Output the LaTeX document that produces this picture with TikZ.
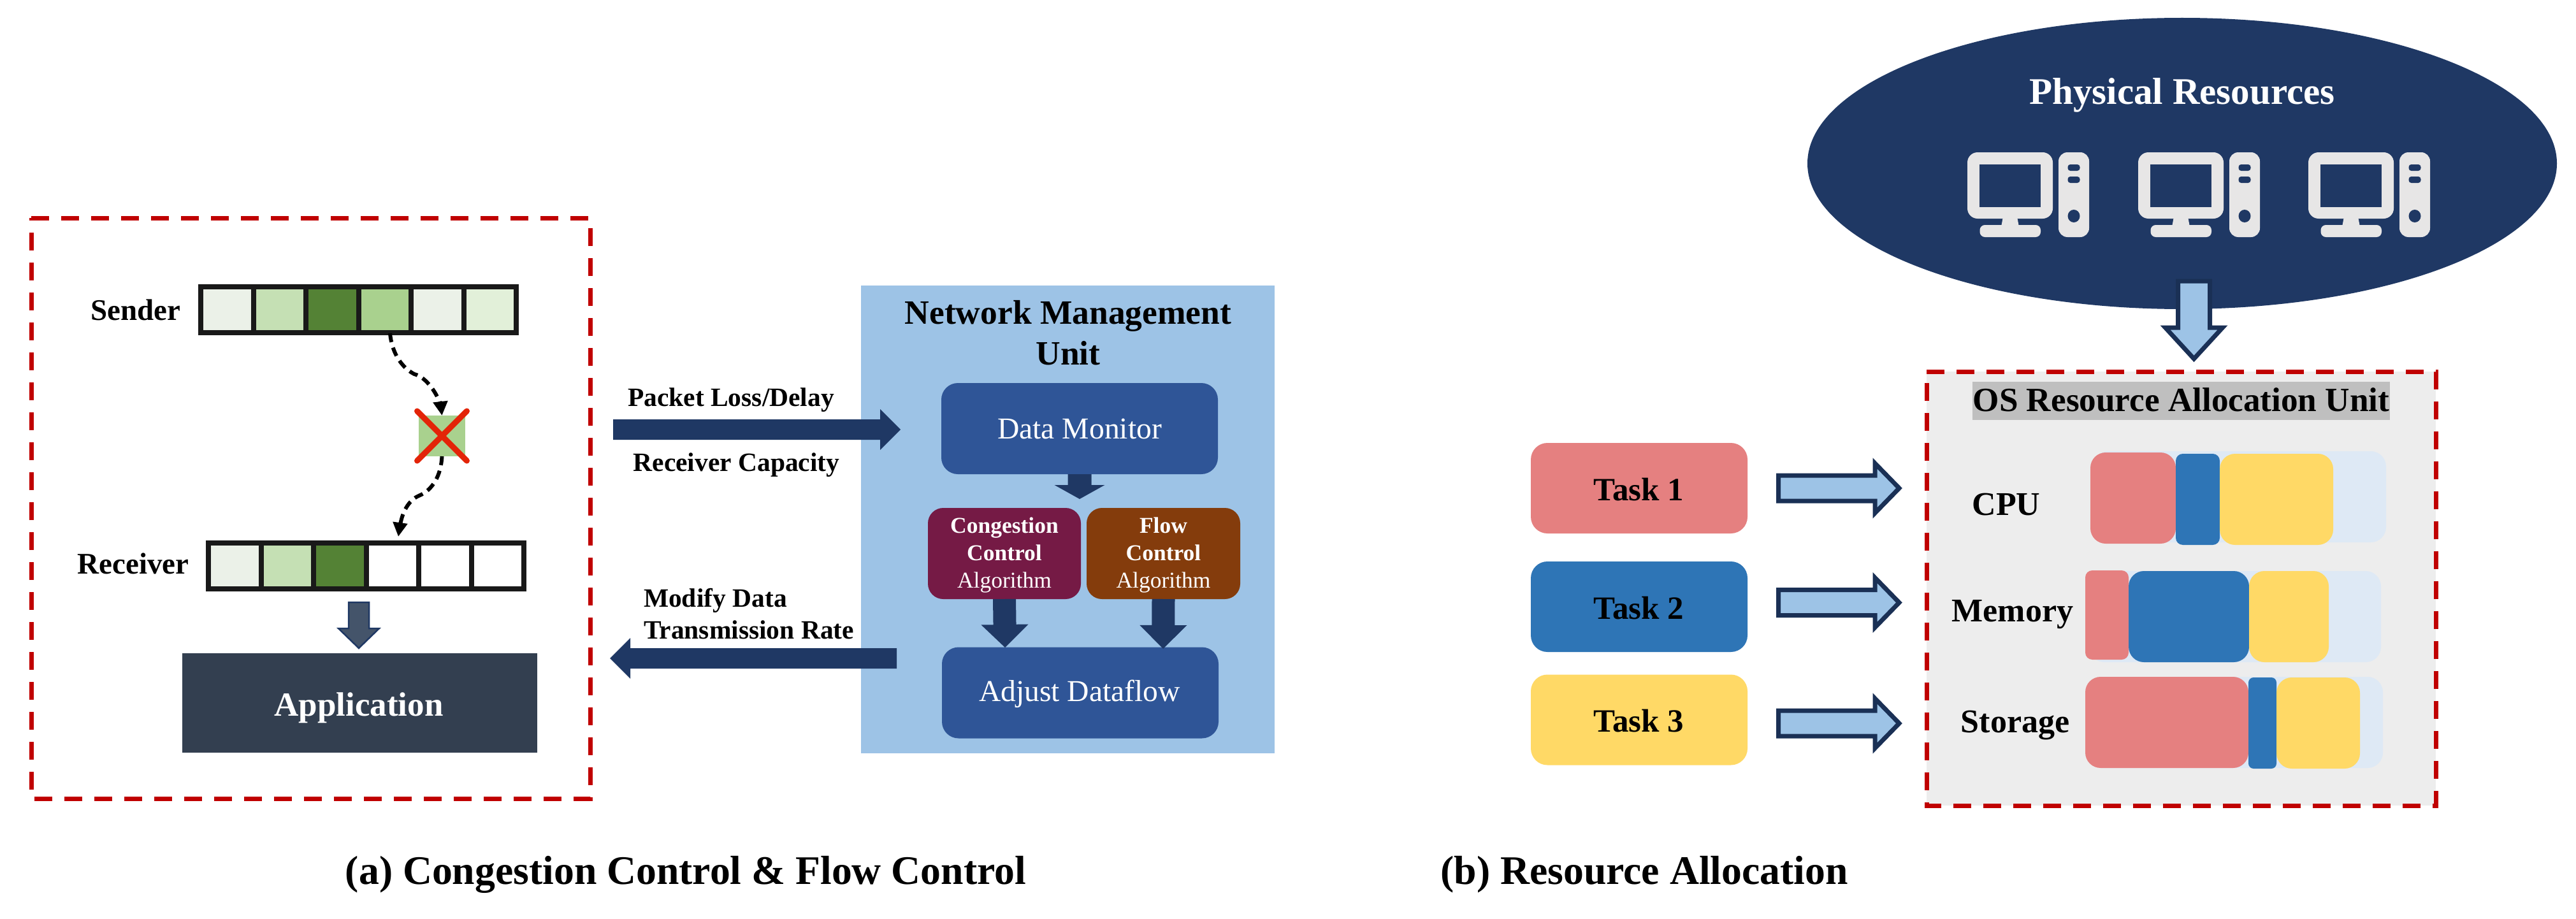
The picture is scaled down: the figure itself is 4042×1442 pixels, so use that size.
\documentclass[tikz,border=0pt]{standalone}
\usepackage{fontspec}
\setmainfont{Liberation Serif}
\usetikzlibrary{calc,arrows.meta,shapes.geometric}
\definecolor{navy}{HTML}{1F3864}
\definecolor{midblue}{HTML}{2F5597}
\definecolor{skyb}{HTML}{9DC3E6}
\definecolor{slate}{HTML}{333F50}
\definecolor{slateb}{HTML}{44546A}
\definecolor{redbox}{HTML}{C00000}
\definecolor{cellA}{HTML}{EBF1E8}
\definecolor{cellB}{HTML}{C5E0B4}
\definecolor{cellC}{HTML}{548235}
\definecolor{cellD}{HTML}{A9D18E}
\definecolor{cellE}{HTML}{E2F0D9}
\definecolor{plum}{HTML}{751A45}
\definecolor{rust}{HTML}{843C0C}
\definecolor{pinkt}{HTML}{E58080}
\definecolor{bluet}{HTML}{2E75B6}
\definecolor{yellt}{HTML}{FFD966}
\definecolor{bgbar}{HTML}{DEE9F5}
\definecolor{greyunit}{HTML}{EDEDED}
\definecolor{greyband}{HTML}{BFBFBF}
\definecolor{iconc}{HTML}{E7E6E6}
\definecolor{crossred}{HTML}{E32408}
\newcommand\fs[1]{\fontsize{#1}{#1}\selectfont}
% style, from, to, shaft half width, head half width, head length
\newcommand\blockarrow[6]{%
  \coordinate (ba) at ($(#3)!#6pt!(#2)$);
  \draw[#1] ($(#2)!#4pt!90:(#3)$) -- ($(ba)!#4pt!90:(#3)$) -- ($(ba)!#5pt!90:(#3)$) -- (#3)
    -- ($(ba)!#5pt!-90:(#3)$) -- ($(ba)!#4pt!-90:(#3)$) -- ($(#2)!#4pt!-90:(#3)$) -- cycle;
}
\tikzset{
  every node/.style={inner sep=0pt,outer sep=0pt},
  redframe/.style={draw=redbox,line width=7pt,dash pattern=on 28pt off 19pt},
  cellbox/.style={draw=black!90,line width=8pt,minimum width=82.5pt,minimum height=72pt},
  bluebox/.style={fill=midblue,rounded corners=26pt,minimum width=434pt,minimum height=143pt},
  bluetext/.style={text=white,font=\fs{47.6}},
  algobox/.style={rounded corners=24pt,minimum width=240pt,minimum height=143pt},
  algotext/.style={text=white,align=center,font=\fontsize{35.5}{43}\selectfont},
  taskbox/.style={rounded corners=26pt,minimum width=340pt,minimum height=142pt},
  tasktext/.style={font=\bfseries\fs{51}},
  barbox/.style={rounded corners=24pt,minimum height=143pt},
  barnarrow/.style={rounded corners=11pt,minimum height=143pt},
  darkarrow/.style={fill=navy,draw=none},
  hollowarrow/.style={fill=skyb,draw=navy!85!black,line width=7pt,miter limit=10},
  dropline/.style={draw=black,line width=6pt,dash pattern=on 14pt off 9pt},
  droptip/.style={-{Triangle[width=22pt,length=22pt]},solid},
}
\begin{document}
\begin{tikzpicture}[x=1pt,y=-1pt]
\fill[white] (0,0) rectangle (4042,1442);
\useasboundingbox (0,0) rectangle (4042,1442);

%% ---------- (a) left dashed frame
\node[minimum width=877pt,minimum height=911pt] (frameA) at (487.5,797.5) {};
\draw[redframe] (frameA.north west) -- (frameA.north east) -- (frameA.south east) -- (frameA.south west) -- cycle;
\node[font=\bfseries\fs{47}] (senderL) at (213,486) {Sender};
\foreach \i/\c in {1/cellA,2/cellB,3/cellC,4/cellD,5/cellA,6/cellE}
  \node[cellbox,fill=\c] (s\i) at ({315+82.5*(\i-.5)},486) {};
\node[font=\bfseries\fs{47}] (receiverL) at (209,884) {Receiver};
\foreach \i/\c in {1/cellA,2/cellB,3/cellC,4/white,5/white,6/white}
  \node[cellbox,fill=\c] (r\i) at ({327+82.5*(\i-.5)},887.5) {};

\node[fill=cellD,minimum width=73pt,minimum height=64pt] (lost) at (693.5,684) {};
\draw[crossred,line width=9pt,line cap=round] ($(lost.center)+(-39,-39)$) -- ($(lost.center)+(39,39)$);
\draw[crossred,line width=9pt,line cap=round] ($(lost.center)+(-39,39)$) -- ($(lost.center)+(39,-39)$);
\coordinate (s4out) at (612,523);
\coordinate (r3in) at (625,842);
\draw[dropline] (s4out) .. controls (615,555) and (631,577) .. (650,587) .. controls (670,592) and (686,619) .. (691,634);
\draw[droptip,draw=black,line width=6pt] (691,630) -- (lost.north);
\draw[dropline] (lost.south) .. controls (692,746) and (679,769) .. (657,778) .. controls (641,785) and (631,804) .. (628,824);
\draw[droptip,draw=black,line width=6pt] (628,820) -- (r3in);

\node[fill=slate,minimum width=557pt,minimum height=156pt] (app) at (564.5,1103) {};
\node[text=white,font=\bfseries\fs{53}] (appT) at (563,1111) {Application};
\coordinate (appin) at (563,1017);
\coordinate (recvout) at (563,945);
\blockarrow{fill=slateb,draw=navy,line width=2.5pt}{recvout}{appin}{16}{32}{31}

%% ---------- (a) network management unit
\node[fill=skyb,minimum width=649pt,minimum height=734pt] (nmu) at (1675.5,815) {};
\node[font=\bfseries\fontsize{53.5}{64}\selectfont,align=center] (nmuT) at (1676,522) {Network Management\\Unit};
\node[bluebox] (dm) at (1694,672.5) {};
\node[bluetext] (dmT) at (1694,672.5) {Data Monitor};
\node[algobox,fill=plum] (cc) at (1576,868.5) {};
\node[algotext] (ccT) at (1576,871) {\textbf{Congestion}\\\textbf{Control}\\Algorithm};
\node[algobox,fill=rust,minimum width=241pt] (fc) at (1825.5,868.5) {};
\node[algotext] (fcT) at (1825.5,871) {\textbf{Flow}\\\textbf{Control}\\Algorithm};
\node[bluebox] (ad) at (1695,1087) {};
\node[bluetext] (adT) at (1694,1089) {Adjust Dataflow};
\coordinate (ccin) at (1694,783);
\blockarrow{darkarrow}{dm.south}{ccin}{18.5}{39.5}{22}
\coordinate (adin1) at (1577,1016);
\blockarrow{darkarrow}{cc.south}{adin1}{18}{37}{36}
\coordinate (adin2) at (1825,1018);
\blockarrow{darkarrow}{fc.south}{adin2}{18}{37}{37}

\coordinate (pktS) at (962,674);
\coordinate (pktE) at (1413,674);
\blockarrow{darkarrow}{pktS}{pktE}{16}{32}{32}
\coordinate (modS) at (1407,1033);
\coordinate (modE) at (957,1033);
\blockarrow{darkarrow}{modS}{modE}{16}{32}{32}
\node[font=\bfseries\fs{41.5}] (pktL) at (1147,628) {Packet Loss/Delay};
\node[font=\bfseries\fs{41.5}] (rcvL) at (1155.5,730) {Receiver Capacity};
\node[font=\bfseries\fontsize{41.5}{50}\selectfont,align=left,anchor=west] (modL) at (1010,963) {Modify Data\\Transmission Rate};

\node[font=\bfseries\fs{63.7}] (capA) at (1076,1372) {(a) Congestion Control \& Flow Control};

%% ---------- (b) physical resources
\node[ellipse,fill=navy,minimum width=1176pt,minimum height=457pt] (phys) at (3424,256.5) {};
\node[text=white,font=\bfseries\fs{59}] (physT) at (3424,149) {Physical Resources};
\foreach \dx in {0,268,535} {
  \begin{scope}[shift={(\dx,0)}]
    \fill[iconc,rounded corners=16pt] (3087,239) rectangle (3221,343);
    \fill[navy] (3106,258) rectangle (3202,325);
    \fill[iconc] (3143,340) -- (3165,340) -- (3168,356) -- (3140,356) -- cycle;
    \fill[iconc,rounded corners=8pt] (3106.5,353) rectangle (3202,372);
    \fill[iconc,rounded corners=14pt] (3230,239) rectangle (3278,372);
    \fill[navy,rounded corners=4pt] (3244.5,258) rectangle (3263.5,268);
    \fill[navy,rounded corners=4pt] (3244.5,277) rectangle (3263.5,287);
    \fill[navy] (3254,339) ellipse [x radius=9.5,y radius=10];
  \end{scope}
}

%% ---------- (b) resource allocation unit
\node[fill=greyunit,minimum width=799pt,minimum height=681pt] (unitbg) at (3422.5,923.5) {};
\draw[redframe] (unitbg.north west) -- (unitbg.north east) -- (unitbg.south east) -- (unitbg.south west) -- cycle;
\coordinate (physS) at (3442.5,441);
\coordinate (physE) at (3442.5,563);
\blockarrow{hollowarrow}{physS}{physE}{25}{45}{49}
\node[fill=greyband,minimum width=655pt,minimum height=60pt] (unitB) at (3422.5,629) {};
\node[font=\bfseries\fs{53.2}] (unitT) at (3422.5,627) {OS Resource Allocation Unit};

\node[taskbox,fill=pinkt] (t1) at (2572,766) {};
\node[tasktext] (t1T) at (2571.5,768) {Task 1};
\node[taskbox,fill=bluet] (t2) at (2572,952) {};
\node[tasktext] (t2T) at (2571.5,954) {Task 2};
\node[taskbox,fill=yellt] (t3) at (2572,1129.5) {};
\node[tasktext] (t3T) at (2571.5,1131.5) {Task 3};
\foreach \n/\y in {1/766,2/945.5,3/1135} {
  \coordinate (aS\n) at (2790.5,\y);
  \coordinate (aE\n) at (2980,\y);
  \blockarrow{hollowarrow}{aS\n}{aE\n}{20}{39}{38}
}

\node[font=\bfseries\fs{52}] (cpuL) at (3148,792) {CPU};
\node[font=\bfseries\fs{52}] (memL) at (3158,964) {Memory};
\node[font=\bfseries\fs{52}] (stoL) at (3162,1138) {Storage};

% CPU
\node[barbox,fill=bgbar,minimum width=460pt] (cpuBg) at (3514,779.5) {};
\node[barbox,fill=pinkt,minimum width=134pt] (cpu1) at (3347,781.5) {};
\node[barnarrow,fill=bluet,minimum width=69pt] (cpu2) at (3448.5,783.5) {};
\node[barbox,fill=yellt,minimum width=178pt] (cpu3) at (3572,783.5) {};
% Memory
\node[barbox,fill=bgbar,minimum width=458pt] (memBg) at (3507,967.5) {};
\node[barnarrow,fill=pinkt,minimum width=68pt,minimum height=140pt] (mem1) at (3306,965) {};
\node[barbox,fill=bluet,minimum width=189pt] (mem2) at (3434.5,967.5) {};
\node[barbox,fill=yellt,minimum width=125pt] (mem3) at (3591.5,967.5) {};
% Storage
\node[barbox,fill=bgbar,minimum width=461pt] (stoBg) at (3508.5,1133.5) {};
\node[barbox,fill=pinkt,minimum width=256pt] (sto1) at (3400,1133.5) {};
\node[rounded corners=8pt,minimum height=143pt,fill=bluet,minimum width=44pt] (sto2) at (3550,1134.5) {};
\node[barbox,fill=yellt,minimum width=131pt] (sto3) at (3637.5,1134.5) {};

\node[font=\bfseries\fs{63.7}] (capB) at (2580,1372) {(b) Resource Allocation};
\end{tikzpicture}
\end{document}
